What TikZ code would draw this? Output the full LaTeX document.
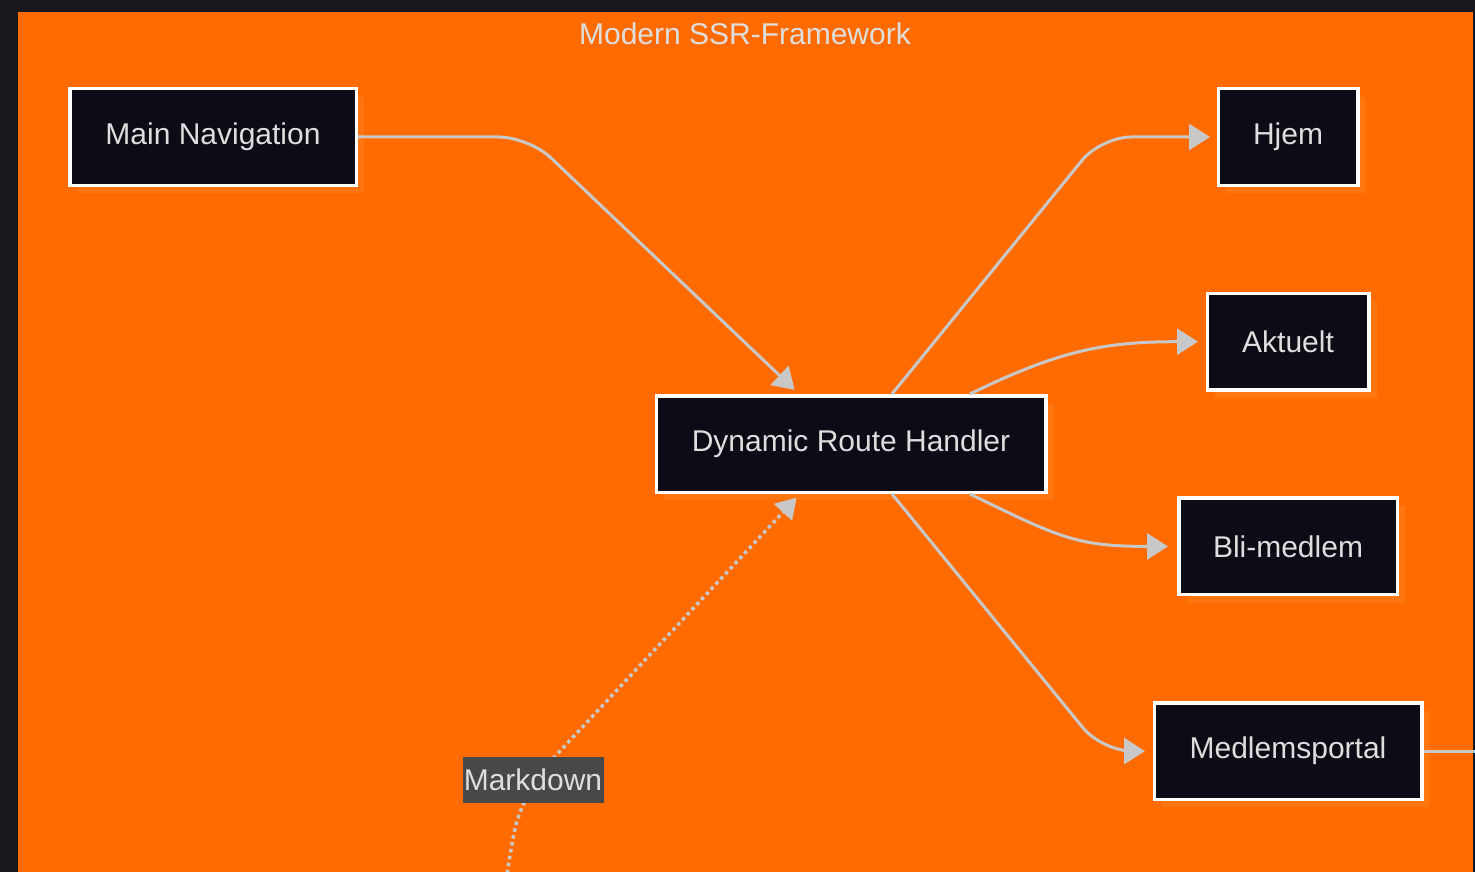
\documentclass[tikz,border=0pt]{standalone}
\usepackage{fontspec}
\setmainfont{Liberation Sans}
\definecolor{Frame}{HTML}{17171C}
\definecolor{Orange}{HTML}{FF6B00}
\definecolor{Shade}{HTML}{FF7510}
\definecolor{Box}{HTML}{0B0C16}
\definecolor{Wire}{HTML}{C8C8C8}
\definecolor{Ink}{HTML}{DEDEDE}
\definecolor{Tag}{HTML}{484848}
\usepackage{tikz}
\usetikzlibrary{positioning,shadows,arrows.meta}

\begin{document}
\begin{tikzpicture}
    [x=1pt, y=-1pt,
    every node/.style={font=\fontsize{30}{36}\selectfont, text=Ink},
    route/.style={draw=white, line width=3.5pt, fill=Box, minimum height=96.5pt, inner xsep=20pt,
        drop shadow={shadow xshift=8pt, shadow yshift=-8pt, fill=Shade, opacity=1}},
    link/.style={draw=Wire, line width=3pt, rounded corners=30pt, -{Triangle[length=21pt,width=26pt]}},
    tag/.style={fill=Tag, inner sep=1pt, minimum height=46pt, minimum width=141pt},
    node distance=104.7pt]

    % canvas
    \useasboundingbox (0,0) rectangle (1475,872);
    \fill [Frame] (0,0) rectangle (1475,872);
    \fill [Orange] (18,12) rectangle (1473,872);
    \node (title) at (745,34) {Modern SSR-Framework};

    % pages
    \node [route, minimum width=286.5pt] (mainnav) at (213,137) {Main Navigation};
    \node [route, minimum width=389.5pt] (handler) at (851,444) {Dynamic Route Handler};
    \node [route, minimum width=139.5pt] (hjem) at (1288,137) {Hjem};
    \node [route, minimum width=161.5pt, below=of hjem] (aktuelt) {Aktuelt};
    \node [route, minimum width=218.5pt, below=of aktuelt] (blimedlem) {Bli-medlem};
    \node [route, minimum width=267.5pt, below=of blimedlem] (portal) {Medlemsportal};

    % links
    \draw [link, shorten >=6pt] (mainnav.east) -- ++(171,0) -- ([xshift=-52pt]handler.north);
    \draw [link, shorten >=6.5pt] ([xshift=41pt]handler.north) -- ([xshift=-115.5pt]hjem.west) -- (hjem.west);
    \draw [link, shorten >=7.5pt] ([xshift=119pt]handler.north) .. controls +(90,-44) and +(-100,0) .. (aktuelt.west);
    \draw [link, shorten >=9pt] ([xshift=119pt]handler.south) .. controls +(90,44) and +(-100,0) .. (blimedlem.west);
    \draw [link, shorten >=7.5pt] ([xshift=41pt]handler.south) -- ([xshift=-50.5pt]portal.west) -- (portal.west);
    \coordinate [right=60pt of portal.east] (beyond);
    \draw [draw=Wire, line width=3pt] (portal.east) -- (beyond);

    % markdown source
    \coordinate (mdsrc) at (506,880);
    \coordinate (mdpos) at (533,780);
    \draw [link, line width=3.5pt, dash pattern=on 3.5pt off 3.5pt, shorten >=5pt, -{Triangle[length=20pt,width=24pt]}]
        (mdsrc) .. controls (515,825) .. (mdpos) -- ([xshift=-51pt]handler.south);
    \node [tag] (markdown) at (mdpos) {Markdown};
\end{tikzpicture}
\end{document}
